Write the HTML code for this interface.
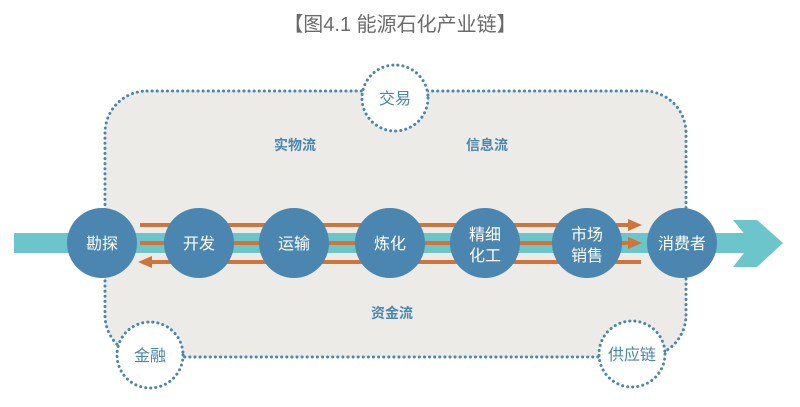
<!DOCTYPE html>
<html><head><meta charset="utf-8"><style>
html,body{margin:0;padding:0;background:#fff;width:800px;height:407px;overflow:hidden}
svg text{font-family:"Liberation Sans","Noto Sans CJK SC",sans-serif}
</style></head><body>
<svg width="800" height="407" viewBox="0 0 800 407" xmlns="http://www.w3.org/2000/svg">
<text x="400" y="31" text-anchor="middle" font-size="20" fill="#6b6b6b">【图4.1 能源石化产业链】</text>
<rect x="105" y="91" width="581" height="266" rx="42" fill="#ecebe8" stroke="#4a86b0" stroke-width="3" stroke-dasharray="0.1 5" stroke-linecap="round"/>
<g fill="#fff" stroke="#4a86b0" stroke-width="3" stroke-dasharray="0.1 5" stroke-linecap="round">
<circle cx="395" cy="98" r="33"/>
<circle cx="150" cy="355" r="33"/>
<circle cx="632" cy="354" r="33"/>
</g>
<g fill="#4a86b0" font-size="16" text-anchor="middle">
<text x="395" y="104">交易</text>
<text x="150" y="361">金融</text>
<text x="632" y="360">供应链</text>
</g>
<g fill="#4a86b0" font-size="14" font-weight="bold" text-anchor="middle">
<text x="295" y="150">实物流</text>
<text x="487" y="150">信息流</text>
<text x="392" y="318">资金流</text>
</g>
<rect x="14" y="233" width="740" height="20" fill="#6cc5cb"/>
<polygon points="733,220 757,220 783,243 757,267 733,267 752,243" fill="#6cc5cb"/>
<g stroke="#d0743a" stroke-width="4">
<line x1="140" y1="225" x2="630" y2="225"/>
<line x1="140" y1="243" x2="630" y2="243"/>
<line x1="150" y1="262" x2="641" y2="262"/>
</g>
<g fill="#d0743a">
<polygon points="628,219 642,225 628,231"/>
<polygon points="628,237 642,243 628,249"/>
<polygon points="152,256 138,262 152,268"/>
</g>
<g fill="#4a86b0">
<circle cx="102" cy="243" r="35"/>
<circle cx="199" cy="243" r="35"/>
<circle cx="294" cy="243" r="35"/>
<circle cx="390" cy="243" r="35"/>
<circle cx="485" cy="243" r="35"/>
<circle cx="587" cy="243" r="35"/>
<circle cx="682" cy="243" r="35"/>
</g>
<g fill="#fff" font-size="16" text-anchor="middle">
<text x="102" y="249">勘探</text>
<text x="199" y="249">开发</text>
<text x="294" y="249">运输</text>
<text x="390" y="249">炼化</text>
<text x="485" y="240">精细</text>
<text x="485" y="261">化工</text>
<text x="587" y="240">市场</text>
<text x="587" y="261">销售</text>
<text x="682" y="249">消费者</text>
</g>
</svg>
</body></html>
